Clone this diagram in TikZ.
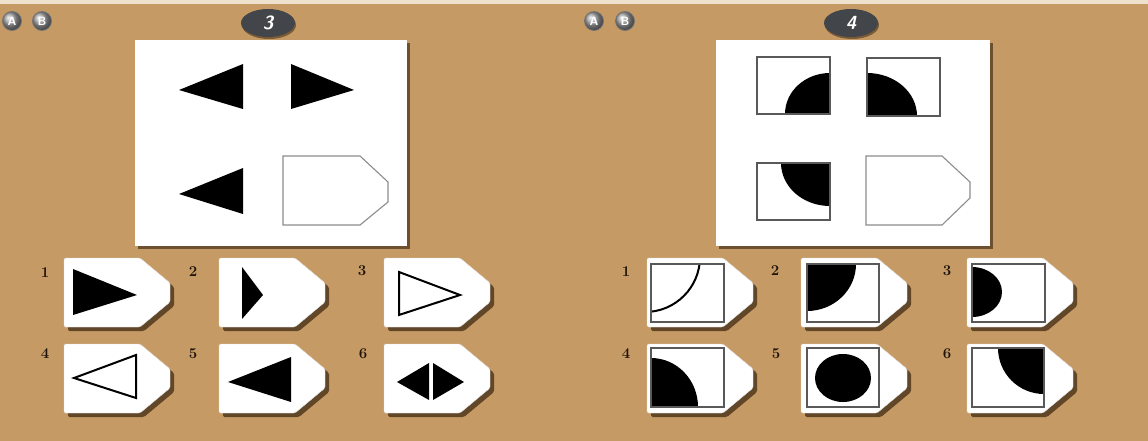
\documentclass[tikz,border=0pt]{standalone}
\usepackage{tikz}
\usetikzlibrary{shadows, shapes.geometric}
\definecolor{board}{RGB}{198,154,100}
\definecolor{boardlight}{RGB}{238,226,204}
\definecolor{ovalgrey}{RGB}{66,70,74}
\definecolor{shade}{RGB}{72,50,24}

\begin{document}
\begin{tikzpicture}[x=1pt, y=-1pt,
    panel/.style = {fill=white, drop shadow={shadow xshift=3pt, shadow yshift=-3pt, fill=shade, opacity=0.7}},
    tagbox/.style = {fill=white, draw=black!12, rounded corners=1.5pt, drop shadow={shadow xshift=4pt, shadow yshift=-4pt, fill=shade, opacity=0.8}},
    slot/.style = {fill=white, draw=black!45, line width=1.1pt},
    frame/.style = {draw=black!65, line width=1.2pt},
    num/.style = {font=\bfseries\fontsize{15}{15}\selectfont, text=black!85!brown, inner sep=0pt},
    badge/.style = {ellipse, minimum width=54pt, minimum height=28pt, inner sep=0pt, fill=ovalgrey, text=white, font=\sffamily\bfseries\itshape\fontsize{19}{19}\selectfont, drop shadow={shadow xshift=1pt, shadow yshift=-2pt, fill=shade, opacity=0.6}},
    btn/.style = {circle, minimum size=19pt, inner sep=0pt, shading=ball, ball color=gray!75, draw=black!55, line width=0.8pt, text=white, font=\sffamily\bfseries\fontsize{12}{12}\selectfont}
]
\useasboundingbox (0,0) rectangle (1148,441);
\fill[board] (0,0) rectangle (1148,441);
\fill[boardlight] (0,0) rectangle (1148,4);

% header, left puzzle
\node[btn] (btnA1) at (12,21) {A};
\node[btn] (btnB1) at (42,21) {B};
\node[badge] (badge3) at (268,23) {3};

% header, right puzzle
\node[btn] (btnA2) at (594,21) {A};
\node[btn] (btnB2) at (625,21) {B};
\node[badge] (badge4) at (851,23) {4};

% question panels
\fill[panel] (135,40) rectangle (407,246);
\fill[panel] (716,40) rectangle (990,246);

% left puzzle: triangles
\fill (179,90) -- (243,64) -- (243,109) -- cycle;
\fill (291,64) -- (354,90) -- (291,109) -- cycle;
\fill (179,194) -- (243,168) -- (243,214) -- cycle;
\draw[slot] (283,156) -- (360,156) -- (388,182) -- (388,202) -- (360,225) -- (283,225) -- cycle;

% right puzzle: quarter discs
\begin{scope}
  \clip (757,57) rectangle (830,114);
  \fill (830,114) ellipse [x radius=45, y radius=41];
\end{scope}
\draw[frame] (757,57) rectangle (830,114);
\begin{scope}
  \clip (867,58) rectangle (940,116);
  \fill (867,116) ellipse [x radius=50, y radius=43];
\end{scope}
\draw[frame] (867,58) rectangle (940,116);
\begin{scope}
  \clip (757,163) rectangle (830,220);
  \fill (830,163) ellipse [x radius=49, y radius=43];
\end{scope}
\draw[frame] (757,163) rectangle (830,220);
\draw[slot] (866,156) -- (942,156) -- (970,182) -- (970,198) -- (942,225) -- (866,225) -- cycle;

% answer tags
\foreach \x/\y in {64/258,219/258,384/258,64/344,219/344,384/344,647/258,801/258,967/258,647/344,801/344,967/344}
  \draw[tagbox] (\x,\y) -- ++(76,0) -- ++(30,25) -- ++(0,19) -- ++(-30,25) -- ++(-76,0) -- cycle;

\foreach \n/\x/\y in {1/45/273,2/193/272,3/362/271,4/45/354,5/193/354,6/363/354}
  \node[num] (la\n) at (\x,\y) {\n};
\foreach \n/\x/\y in {1/626/272,2/775/271,3/947/271,4/626/354,5/776/354,6/947/354}
  \node[num] (lb\n) at (\x,\y) {\n};

% left answers
\fill (73,269) -- (137,295) -- (73,315) -- cycle;
\fill (242,267) -- (263,295) -- (242,319) -- cycle;
\draw[line width=2pt] (399,272) -- (460,295) -- (399,315) -- cycle;
\draw[line width=2pt] (74,378) -- (136,355) -- (136,398) -- cycle;
\fill (228,382) -- (291,357) -- (291,402) -- cycle;
\fill (397,382) -- (429,363) -- (429,400) -- cycle;
\fill (433,363) -- (464,382) -- (433,400) -- cycle;

% right answers
\begin{scope}
  \clip (651,264) rectangle (724,322);
  \draw[line width=2pt] (645,257) circle [radius=55];
\end{scope}
\draw[frame] (651,264) rectangle (724,322);
\begin{scope}
  \clip (807,264) rectangle (879,322);
  \fill (807,264) ellipse [x radius=49, y radius=47];
\end{scope}
\draw[frame] (807,264) rectangle (879,322);
\begin{scope}
  \clip (972,264) rectangle (1045,322);
  \fill (972,292) ellipse [x radius=30, y radius=25];
\end{scope}
\draw[frame] (972,264) rectangle (1045,322);
\begin{scope}
  \clip (651,348) rectangle (724,407);
  \fill (651,407) ellipse [x radius=47, y radius=49];
\end{scope}
\draw[frame] (651,348) rectangle (724,407);
\fill (843,378) ellipse [x radius=28, y radius=24];
\draw[frame] (807,348) rectangle (879,407);
\begin{scope}
  \clip (972,348) rectangle (1044,407);
  \fill (1044,348) ellipse [x radius=46, y radius=46];
\end{scope}
\draw[frame] (972,348) rectangle (1044,407);
\end{tikzpicture}
\end{document}
